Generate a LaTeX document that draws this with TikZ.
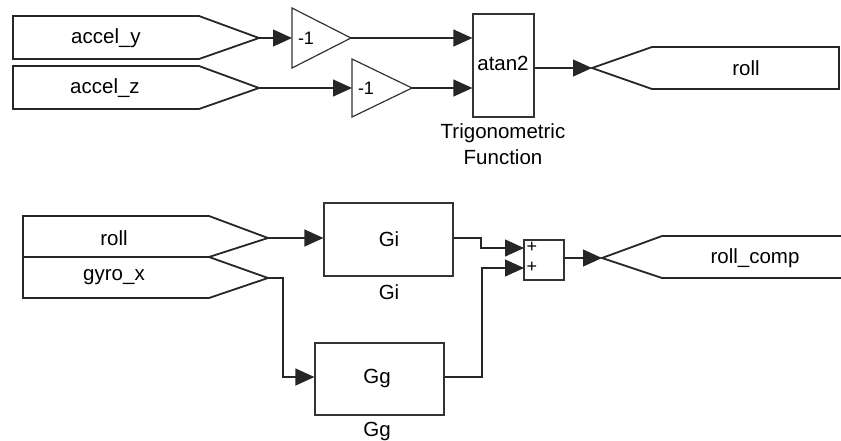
\documentclass[tikz,border=0pt]{standalone}
\usepackage{fontspec}
\setmainfont{Liberation Sans}
\usetikzlibrary{arrows.meta}
\begin{document}
\begin{tikzpicture}[x=1pt,y=-1pt,
  tagline/.style={draw=black!85,line width=1.8pt,line join=miter},
  blk/.style={draw=black!80,line width=1.2pt,fill=white,inner sep=0pt},
  conn/.style={draw=black!85,line width=1.2pt},
  arr/.style={conn,-{Triangle[length=19pt,width=17pt]}},
  lbl/.style={font=\fontsize{20.5}{24}\selectfont,inner sep=0pt},
  small/.style={font=\fontsize{18}{21}\selectfont,inner sep=0pt},
  tiny/.style={font=\fontsize{18}{20}\selectfont,inner sep=0pt}]
\useasboundingbox (0,0) rectangle (841,440);

% ---------- upper part ----------
% tags
\draw[tagline] (13,16) -- (199,16) -- (259,38) -- (199,59) -- (13,59) -- cycle;
\coordinate (ay) at (259,38);
\node[lbl] (tay) at (106,38) {accel\_y};
\draw[tagline] (13,66) -- (199,66) -- (259,88) -- (199,109) -- (13,109) -- cycle;
\coordinate (az) at (259,88);
\node[lbl] (taz) at (105,88) {accel\_z};

% gains
\draw[blk] (292,8) -- (351,38) -- (292,68) -- cycle;
\coordinate (g1in) at (292,38);
\coordinate (g1out) at (351,38);
\node[small] (g1t) at (306,38) {-1};
\draw[blk] (352,59) -- (412,88) -- (352,117) -- cycle;
\coordinate (g2in) at (352,88);
\coordinate (g2out) at (412,88);
\node[small] (g2t) at (366,88) {-1};

% trig function
\node[blk,minimum width=61pt,minimum height=103pt] (atan) at (503.5,65.5) {};
\node[lbl] (atant) at (503,63) {atan2};
\node[lbl,align=center] (trigl) at (503,144) {Trigonometric\\[2pt]Function};

% roll goto tag
\draw[tagline] (592,68) -- (652,47) -- (839,47) -- (839,89) -- (652,89) -- cycle;
\coordinate (rollin) at (592,68);
\node[lbl] (trg) at (746,68) {roll};

% connectors
\draw[arr] (ay) -- (g1in);
\draw[arr] (az) -- (g2in);
\draw[arr] (g1out) -- (atan.west |- g1out);
\draw[arr] (g2out) -- (atan.west |- g2out);
\draw[arr] (atan.east |- rollin) -- (rollin);

% ---------- lower part ----------
\draw[tagline] (23,216) -- (209,216) -- (268,238) -- (209,257) -- (23,257) -- cycle;
\coordinate (rl) at (268,238);
\node[lbl] (trl) at (114,238) {roll};
\draw[tagline] (23,257) -- (209,257) -- (268,278) -- (209,298) -- (23,298) -- cycle;
\coordinate (gx) at (268,278);
\node[lbl] (tgx) at (114,277) {gyro\_x};

\node[blk,minimum width=129pt,minimum height=73pt] (gi) at (388.5,239.5) {};
\node[lbl] (git) at (389,239) {Gi};
\node[lbl] (gil) at (389,292) {Gi};

\node[blk,minimum width=129pt,minimum height=72pt] (gg) at (379.5,379) {};
\node[lbl] (ggt) at (377,378) {Gg};
\node[lbl] (ggl) at (377,431) {Gg};

\node[blk,minimum width=40pt,minimum height=40pt] (sum) at (544,260) {};
\coordinate (s1) at (524,248);
\coordinate (s2) at (524,268);
\node[tiny] (p1) at (532,247) {+};
\node[tiny] (p2) at (532,267) {+};

\draw[tagline] (841,236) -- (662,236) -- (602,258) -- (662,278) -- (841,278);
\coordinate (rc) at (602,258);
\node[lbl] (trc) at (755,258) {roll\_comp};

% connectors
\draw[arr] (rl) -- (gi.west |- rl);
\draw[arr] (gx) -- (283,278) -- (283,377) -- (gg.west |- 0,377);
\draw[arr] (gi.east |- 0,238) -- (481,238) -- (481,248) -- (s1);
\draw[arr] (gg.east |- 0,377) -- (482,377) -- (482,268) -- (s2);
\draw[arr] (sum.east |- rc) -- (rc);
\end{tikzpicture}
\end{document}
